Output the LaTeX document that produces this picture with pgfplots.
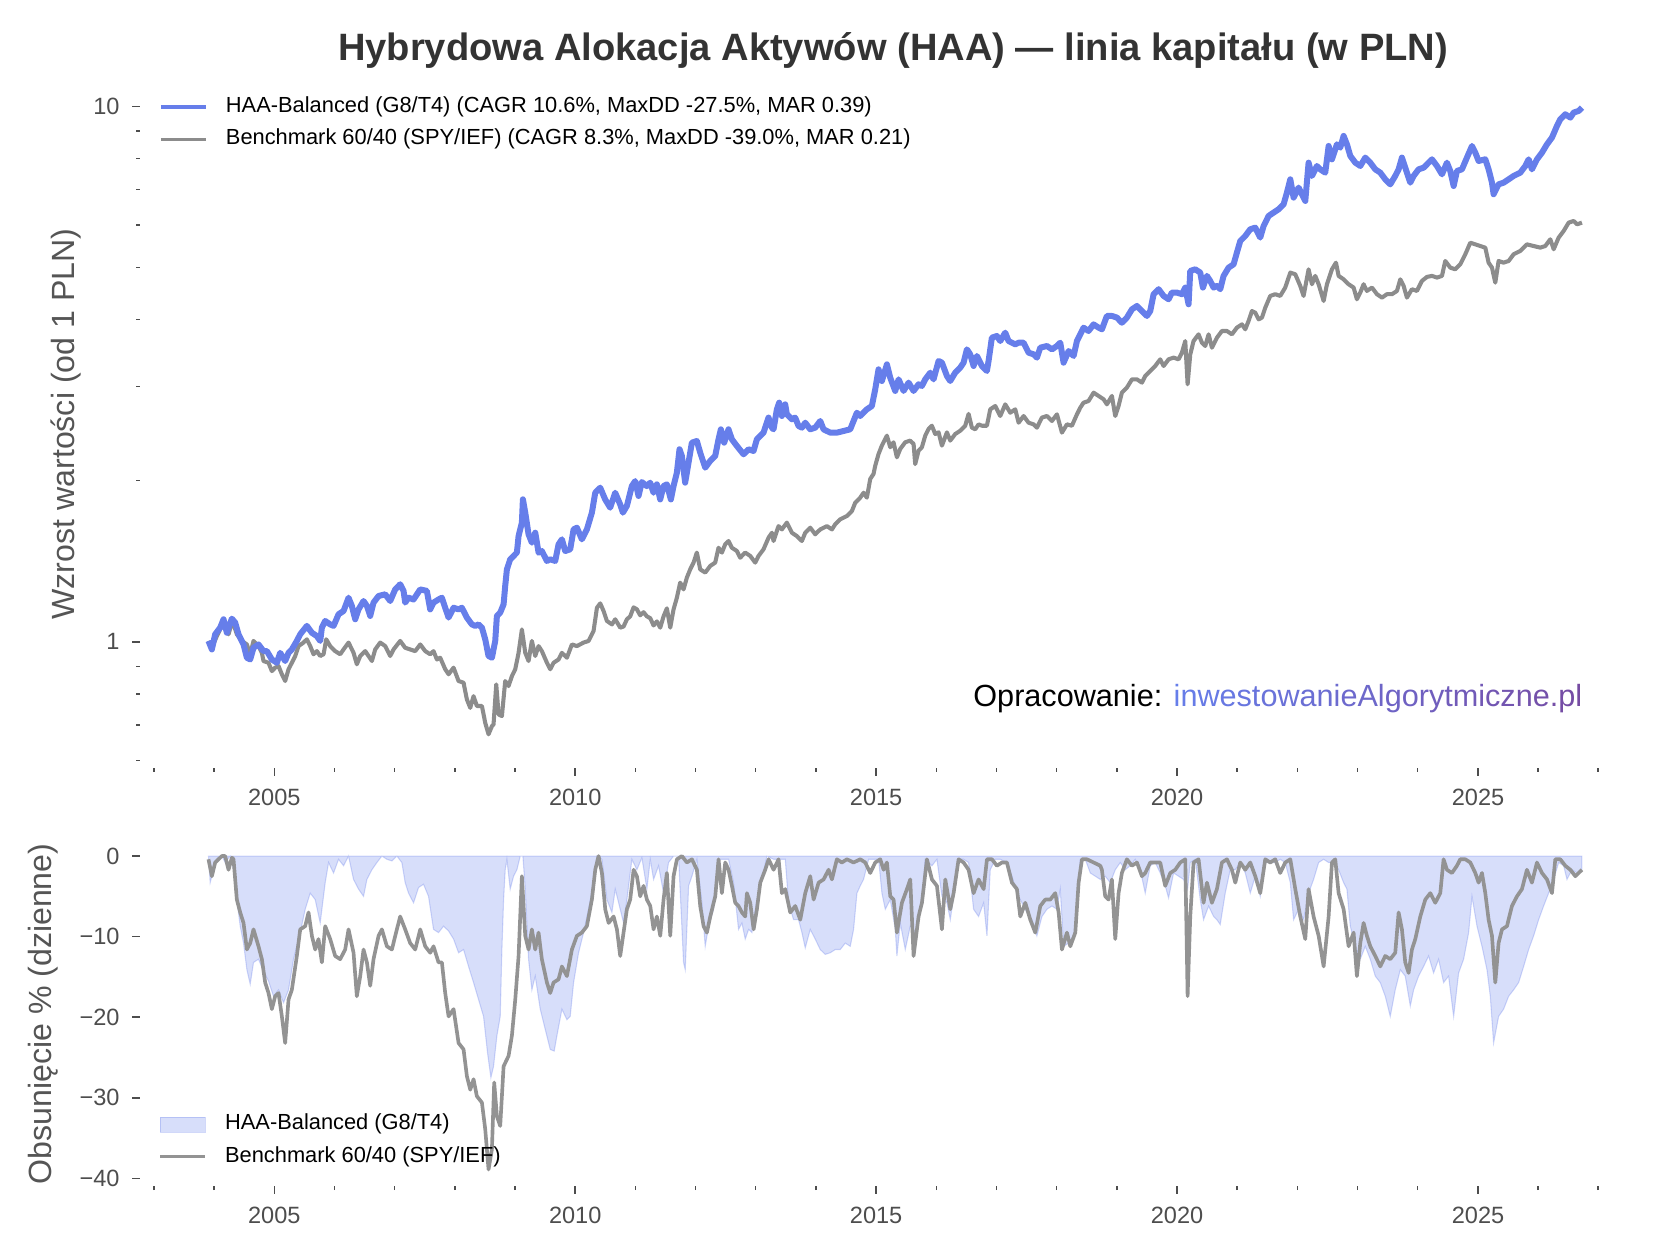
\documentclass[border=0pt]{standalone}
\usepackage{fontspec}
\setmainfont{Liberation Sans}
\usepackage{pgfplots}
\usepackage{pgfplotstable}
\pgfplotsset{compat=1.18}

\definecolor{haa}{HTML}{667EEA}
\definecolor{bench}{HTML}{8C8C8C}
\definecolor{benchdd}{HTML}{939393}
\definecolor{tickc}{HTML}{4D4D4D}
\definecolor{labc}{HTML}{555555}
\definecolor{titlec}{HTML}{333333}
\definecolor{wmA}{HTML}{667EEA}
\definecolor{wmB}{HTML}{764BA2}
\newcommand\gc[2]{\textcolor{wmB!#1!wmA}{#2}}

% equity curve, HAA-Balanced (growth of 1 PLN)
\pgfplotstableread{
x y
2003.907 1.004
2003.963 0.968
2004.018 1.033
2004.101 1.063
2004.157 1.102
2004.212 1.040
2004.295 1.105
2004.351 1.086
2004.406 1.033
2004.489 0.989
2004.545 0.934
2004.600 0.927
2004.655 0.975
2004.738 0.989
2004.821 0.961
2004.877 0.961
2004.960 0.927
2005.043 0.914
2005.098 0.954
2005.181 0.921
2005.237 0.954
2005.292 0.968
2005.375 1.004
2005.431 1.033
2005.541 1.071
2005.625 1.040
2005.708 1.025
2005.763 1.004
2005.791 1.063
2005.846 1.094
2005.929 1.078
2005.985 1.071
2006.068 1.126
2006.151 1.142
2006.234 1.209
2006.289 1.167
2006.345 1.102
2006.400 1.150
2006.483 1.192
2006.539 1.167
2006.594 1.118
2006.649 1.184
2006.733 1.218
2006.843 1.227
2006.926 1.192
2007.009 1.253
2007.092 1.281
2007.148 1.245
2007.175 1.184
2007.231 1.209
2007.314 1.200
2007.425 1.253
2007.535 1.245
2007.591 1.150
2007.646 1.184
2007.729 1.200
2007.785 1.209
2007.840 1.158
2007.896 1.110
2007.979 1.158
2008.062 1.150
2008.117 1.158
2008.200 1.110
2008.283 1.078
2008.339 1.071
2008.394 1.078
2008.450 1.063
2008.505 1.011
2008.560 0.941
2008.616 0.934
2008.671 1.004
2008.699 1.118
2008.754 1.134
2008.810 1.175
2008.837 1.272
2008.865 1.366
2008.920 1.426
2008.976 1.447
2009.031 1.468
2009.059 1.576
2009.114 1.670
2009.131 1.846
2009.170 1.743
2009.225 1.588
2009.280 1.532
2009.336 1.599
2009.391 1.468
2009.446 1.478
2009.530 1.416
2009.585 1.426
2009.668 1.416
2009.723 1.521
2009.779 1.554
2009.834 1.478
2009.917 1.489
2009.973 1.622
2010.028 1.634
2010.111 1.554
2010.194 1.622
2010.277 1.743
2010.333 1.899
2010.415 1.941
2010.498 1.845
2010.581 1.781
2010.664 1.899
2010.747 1.806
2010.792 1.743
2010.858 1.794
2010.941 1.954
2010.997 1.997
2011.052 1.873
2011.107 1.989
2011.190 1.954
2011.246 1.983
2011.301 1.899
2011.357 1.969
2011.412 1.845
2011.467 1.954
2011.523 1.969
2011.589 1.845
2011.634 1.954
2011.689 2.070
2011.733 2.289
2011.772 2.224
2011.827 1.983
2011.883 2.161
2011.938 2.355
2012.021 2.372
2012.077 2.256
2012.160 2.115
2012.243 2.177
2012.326 2.224
2012.381 2.389
2012.420 2.494
2012.475 2.355
2012.547 2.494
2012.603 2.389
2012.686 2.322
2012.797 2.240
2012.880 2.289
2012.963 2.272
2013.018 2.389
2013.129 2.459
2013.212 2.623
2013.268 2.512
2013.295 2.494
2013.351 2.718
2013.389 2.797
2013.434 2.641
2013.489 2.777
2013.517 2.660
2013.600 2.604
2013.655 2.623
2013.711 2.530
2013.766 2.512
2013.822 2.566
2013.905 2.494
2013.988 2.512
2014.071 2.585
2014.126 2.494
2014.237 2.459
2014.348 2.459
2014.458 2.476
2014.569 2.494
2014.625 2.585
2014.680 2.679
2014.735 2.641
2014.846 2.718
2014.929 2.757
2014.985 2.963
2015.040 3.228
2015.095 3.070
2015.179 3.298
2015.234 3.114
2015.317 2.942
2015.373 3.092
2015.456 2.942
2015.539 3.049
2015.622 2.942
2015.705 3.027
2015.760 3.005
2015.816 3.092
2015.899 3.182
2015.954 3.092
2016.037 3.346
2016.093 3.322
2016.176 3.137
2016.231 3.070
2016.314 3.182
2016.397 3.252
2016.453 3.322
2016.508 3.518
2016.563 3.443
2016.619 3.275
2016.674 3.419
2016.757 3.275
2016.840 3.205
2016.868 3.346
2016.923 3.699
2017.006 3.726
2017.062 3.646
2017.145 3.780
2017.200 3.646
2017.311 3.594
2017.367 3.620
2017.450 3.620
2017.533 3.468
2017.616 3.443
2017.671 3.394
2017.727 3.543
2017.837 3.569
2017.921 3.518
2018.004 3.569
2018.059 3.620
2018.114 3.322
2018.198 3.493
2018.281 3.419
2018.336 3.646
2018.391 3.753
2018.446 3.862
2018.529 3.807
2018.613 3.917
2018.696 3.862
2018.751 3.835
2018.834 4.061
2018.917 4.061
2019.000 4.032
2019.083 3.945
2019.166 4.032
2019.250 4.178
2019.333 4.239
2019.416 4.148
2019.499 4.061
2019.554 4.148
2019.610 4.459
2019.693 4.556
2019.776 4.426
2019.859 4.363
2019.914 4.490
2019.997 4.490
2020.080 4.459
2020.136 4.588
2020.191 4.270
2020.219 4.928
2020.302 4.963
2020.385 4.893
2020.429 4.588
2020.496 4.824
2020.551 4.719
2020.607 4.588
2020.662 4.620
2020.717 4.556
2020.773 4.824
2020.856 4.999
2020.939 5.071
2020.994 5.333
2021.050 5.606
2021.133 5.728
2021.216 5.895
2021.299 5.937
2021.382 5.688
2021.438 5.980
2021.521 6.243
2021.604 6.334
2021.687 6.425
2021.770 6.564
2021.825 6.902
2021.881 7.308
2021.936 6.756
2022.019 7.053
2022.075 6.853
2022.130 6.659
2022.185 7.852
2022.241 7.416
2022.324 7.739
2022.379 7.629
2022.462 7.521
2022.518 8.435
2022.573 7.965
2022.656 8.495
2022.711 8.375
2022.767 8.806
2022.822 8.495
2022.878 8.080
2022.961 7.852
2023.044 7.739
2023.127 8.023
2023.210 7.852
2023.293 7.629
2023.376 7.521
2023.459 7.308
2023.542 7.152
2023.625 7.416
2023.681 7.629
2023.736 8.023
2023.791 7.684
2023.875 7.203
2023.930 7.416
2024.013 7.629
2024.096 7.684
2024.179 7.852
2024.235 7.965
2024.318 7.739
2024.401 7.467
2024.484 7.852
2024.539 7.575
2024.595 7.101
2024.650 7.575
2024.733 7.629
2024.816 8.023
2024.900 8.435
2024.955 8.196
2025.010 7.908
2025.121 7.965
2025.176 7.629
2025.232 7.203
2025.259 6.853
2025.342 7.152
2025.425 7.203
2025.509 7.308
2025.592 7.416
2025.702 7.521
2025.786 7.739
2025.841 7.965
2025.896 7.629
2025.979 7.965
2026.063 8.196
2026.146 8.495
2026.229 8.746
2026.312 9.195
2026.367 9.460
2026.450 9.667
2026.534 9.528
2026.589 9.736
2026.672 9.806
2026.727 9.948
}\haaeq

% equity curve, benchmark 60/40
\pgfplotstableread{
x y
2003.907 1.004
2003.963 0.975
2004.046 1.025
2004.129 1.071
2004.184 1.086
2004.240 1.033
2004.295 1.086
2004.323 1.078
2004.378 1.033
2004.461 1.004
2004.545 0.989
2004.600 0.948
2004.655 1.004
2004.738 0.982
2004.794 0.954
2004.821 0.921
2004.904 0.914
2004.960 0.882
2005.015 0.895
2005.071 0.901
2005.126 0.870
2005.181 0.845
2005.237 0.889
2005.292 0.914
2005.348 0.941
2005.403 0.982
2005.486 0.997
2005.541 1.011
2005.597 0.982
2005.652 0.948
2005.708 0.961
2005.763 0.941
2005.819 0.948
2005.863 1.011
2005.929 0.982
2006.012 0.961
2006.095 0.948
2006.151 0.968
2006.234 0.997
2006.317 0.954
2006.372 0.908
2006.428 0.941
2006.511 0.961
2006.566 0.941
2006.622 0.921
2006.677 0.968
2006.760 0.997
2006.843 0.982
2006.926 0.941
2006.982 0.968
2007.092 1.004
2007.175 0.975
2007.258 0.968
2007.342 0.961
2007.425 0.989
2007.508 0.961
2007.591 0.948
2007.646 0.961
2007.702 0.927
2007.757 0.934
2007.840 0.889
2007.896 0.870
2007.979 0.895
2008.062 0.845
2008.145 0.839
2008.200 0.781
2008.256 0.753
2008.311 0.792
2008.366 0.759
2008.450 0.759
2008.505 0.706
2008.560 0.672
2008.616 0.696
2008.643 0.701
2008.688 0.833
2008.727 0.732
2008.782 0.727
2008.837 0.845
2008.893 0.827
2008.948 0.863
2009.004 0.889
2009.059 0.954
2009.114 1.055
2009.170 0.954
2009.225 0.921
2009.280 1.004
2009.336 0.941
2009.391 0.982
2009.446 0.961
2009.530 0.914
2009.585 0.889
2009.640 0.914
2009.723 0.927
2009.779 0.954
2009.862 0.934
2009.945 0.989
2010.028 0.982
2010.139 0.997
2010.222 1.004
2010.305 1.048
2010.361 1.158
2010.416 1.180
2010.471 1.142
2010.527 1.094
2010.610 1.078
2010.665 1.102
2010.748 1.063
2010.803 1.068
2010.859 1.102
2010.914 1.116
2010.970 1.160
2011.025 1.150
2011.080 1.121
2011.136 1.136
2011.191 1.116
2011.247 1.107
2011.302 1.073
2011.357 1.092
2011.413 1.063
2011.468 1.116
2011.523 1.155
2011.579 1.063
2011.634 1.150
2011.689 1.209
2011.744 1.290
2011.800 1.253
2011.855 1.318
2011.911 1.366
2011.966 1.406
2012.021 1.468
2012.077 1.366
2012.160 1.347
2012.243 1.386
2012.326 1.406
2012.381 1.499
2012.437 1.468
2012.492 1.521
2012.547 1.543
2012.603 1.499
2012.686 1.478
2012.741 1.436
2012.824 1.468
2012.908 1.447
2012.991 1.406
2013.046 1.447
2013.129 1.489
2013.212 1.565
2013.268 1.599
2013.295 1.543
2013.378 1.645
2013.434 1.622
2013.517 1.670
2013.600 1.599
2013.683 1.576
2013.766 1.543
2013.822 1.599
2013.905 1.634
2013.988 1.588
2014.071 1.622
2014.182 1.645
2014.265 1.622
2014.320 1.658
2014.403 1.694
2014.514 1.718
2014.597 1.755
2014.652 1.819
2014.735 1.859
2014.791 1.899
2014.846 1.859
2014.902 2.015
2014.957 2.059
2014.985 2.133
2015.040 2.243
2015.095 2.325
2015.179 2.427
2015.234 2.309
2015.289 2.359
2015.345 2.211
2015.400 2.292
2015.483 2.359
2015.566 2.376
2015.622 2.342
2015.649 2.148
2015.705 2.276
2015.760 2.309
2015.816 2.427
2015.871 2.497
2015.926 2.533
2015.982 2.444
2016.037 2.462
2016.093 2.325
2016.176 2.462
2016.231 2.376
2016.314 2.444
2016.397 2.479
2016.480 2.533
2016.536 2.665
2016.591 2.512
2016.646 2.494
2016.702 2.548
2016.757 2.533
2016.840 2.533
2016.896 2.718
2016.979 2.757
2017.062 2.641
2017.145 2.777
2017.228 2.679
2017.311 2.718
2017.367 2.566
2017.450 2.641
2017.533 2.566
2017.616 2.548
2017.671 2.512
2017.754 2.623
2017.837 2.641
2017.921 2.585
2018.004 2.660
2018.087 2.459
2018.170 2.548
2018.253 2.533
2018.336 2.660
2018.391 2.737
2018.446 2.797
2018.529 2.817
2018.613 2.920
2018.696 2.879
2018.779 2.838
2018.834 2.777
2018.917 2.879
2018.973 2.641
2019.028 2.757
2019.083 2.920
2019.166 2.984
2019.250 3.092
2019.333 3.092
2019.416 3.049
2019.471 3.137
2019.554 3.206
2019.637 3.275
2019.720 3.370
2019.776 3.275
2019.859 3.370
2019.942 3.395
2020.025 3.370
2020.080 3.468
2020.136 3.646
2020.175 3.027
2020.219 3.443
2020.274 3.646
2020.357 3.753
2020.413 3.620
2020.468 3.569
2020.524 3.753
2020.579 3.543
2020.662 3.699
2020.745 3.807
2020.828 3.807
2020.911 3.753
2020.994 3.862
2021.077 3.917
2021.133 3.835
2021.188 3.974
2021.244 4.148
2021.299 4.119
2021.354 4.002
2021.410 4.032
2021.465 4.208
2021.548 4.426
2021.631 4.459
2021.714 4.426
2021.797 4.588
2021.881 4.893
2021.964 4.858
2022.047 4.620
2022.102 4.426
2022.185 4.963
2022.241 4.654
2022.296 4.824
2022.352 4.654
2022.435 4.331
2022.490 4.654
2022.573 4.963
2022.640 5.107
2022.684 4.824
2022.767 4.754
2022.850 4.654
2022.933 4.588
2022.988 4.363
2023.044 4.490
2023.099 4.654
2023.154 4.522
2023.238 4.588
2023.321 4.459
2023.404 4.394
2023.487 4.459
2023.570 4.459
2023.653 4.522
2023.709 4.754
2023.764 4.620
2023.819 4.394
2023.902 4.556
2023.985 4.522
2024.068 4.721
2024.152 4.803
2024.235 4.824
2024.318 4.789
2024.401 4.824
2024.456 5.144
2024.539 4.999
2024.622 4.963
2024.705 5.071
2024.789 5.295
2024.872 5.565
2024.955 5.525
2025.038 5.486
2025.121 5.447
2025.176 5.107
2025.232 4.999
2025.287 4.686
2025.342 5.144
2025.425 5.107
2025.509 5.144
2025.592 5.295
2025.702 5.370
2025.813 5.525
2025.924 5.486
2026.035 5.447
2026.118 5.486
2026.201 5.647
2026.257 5.409
2026.340 5.688
2026.423 5.853
2026.506 6.066
2026.589 6.109
2026.645 6.022
2026.727 6.066
}\benchq

% daily drawdown in %, HAA-Balanced
\pgfplotstableread{
x y
2003.907 0
2003.935 -3.3
2003.990 -1.7
2004.046 -0.4
2004.129 0
2004.184 -0.8
2004.267 0
2004.323 -1.7
2004.378 -5.4
2004.434 -8.7
2004.489 -10.8
2004.545 -14.1
2004.600 -15.9
2004.655 -13.2
2004.738 -12.8
2004.821 -14.3
2004.904 -15.5
2004.987 -17.4
2005.071 -16.6
2005.154 -18.2
2005.237 -16.6
2005.320 -12.8
2005.431 -9.5
2005.514 -6.6
2005.597 -4.6
2005.680 -5.4
2005.763 -8.3
2005.846 -3.3
2005.902 -0.8
2005.985 -2.1
2006.068 -0.4
2006.151 -1.2
2006.234 0
2006.317 -2.9
2006.400 -4.1
2006.483 -5.0
2006.539 -2.9
2006.622 -1.7
2006.705 -0.8
2006.788 0
2006.871 -0.4
2006.954 -0.6
2007.037 0
2007.120 -0.8
2007.175 -3.3
2007.231 -4.6
2007.314 -5.8
2007.397 -3.9
2007.480 -3.5
2007.563 -5.0
2007.646 -9.1
2007.729 -9.5
2007.812 -8.7
2007.896 -9.3
2007.979 -10.3
2008.062 -12.0
2008.145 -11.6
2008.228 -13.7
2008.311 -15.7
2008.394 -17.8
2008.477 -19.9
2008.543 -24.4
2008.599 -27.5
2008.643 -26.1
2008.699 -22.3
2008.754 -19.9
2008.782 -11.6
2008.810 -5.4
2008.837 -1.7
2008.865 -0.4
2008.920 -4.1
2008.976 -2.5
2009.031 -1.7
2009.087 0
2009.131 0
2009.170 -4.1
2009.225 -12.8
2009.280 -16.6
2009.336 -14.9
2009.419 -19.0
2009.502 -21.5
2009.585 -24.0
2009.651 -24.2
2009.696 -22.3
2009.779 -19.0
2009.862 -20.3
2009.917 -19.9
2009.973 -15.7
2010.056 -12.0
2010.139 -9.5
2010.222 -6.6
2010.305 -3.3
2010.361 0
2010.444 -0.4
2010.527 -5.4
2010.610 -7.0
2010.665 -4.1
2010.748 -6.6
2010.803 -8.3
2010.859 -5.4
2010.942 -0.4
2011.025 -1.7
2011.108 -0.2
2011.191 -4.1
2011.247 -0.4
2011.302 -2.9
2011.385 -1.2
2011.468 -4.6
2011.551 -0.8
2011.634 0
2011.717 0
2011.800 -13.2
2011.828 -14.1
2011.884 -3.7
2011.939 -2.5
2012.022 -0.4
2012.105 -5.8
2012.160 -11.2
2012.216 -8.7
2012.299 -6.6
2012.382 -0.4
2012.465 -0.4
2012.548 -0.4
2012.631 -3.3
2012.714 -9.1
2012.770 -8.3
2012.825 -10.3
2012.881 -9.1
2012.936 -9.5
2013.019 -5.4
2013.102 -2.9
2013.185 0
2013.296 -0.4
2013.407 -0.4
2013.490 -0.4
2013.545 -5.8
2013.628 -7.9
2013.711 -7.9
2013.767 -9.5
2013.822 -11.4
2013.905 -9.1
2013.988 -10.3
2014.071 -11.6
2014.155 -12.2
2014.238 -12.0
2014.321 -11.6
2014.404 -11.6
2014.487 -10.8
2014.570 -11.2
2014.625 -9.1
2014.681 -4.6
2014.736 -3.7
2014.791 -2.9
2014.875 -0.4
2014.958 -0.4
2015.041 -0.4
2015.096 -4.6
2015.152 -6.6
2015.235 -5.4
2015.318 -9.1
2015.345 -12.4
2015.401 -8.3
2015.484 -11.6
2015.567 -8.7
2015.650 -9.5
2015.705 -7.5
2015.761 -5.8
2015.816 -0.4
2015.927 -1.2
2016.010 -0.4
2016.093 -5.0
2016.176 -5.8
2016.232 -7.9
2016.287 -5.0
2016.370 -0.4
2016.453 -0.4
2016.536 -0.8
2016.619 -6.6
2016.702 -7.5
2016.786 -5.8
2016.841 -9.9
2016.896 -1.7
2016.979 -0.4
2017.062 -0.4
2017.173 -0.8
2017.256 -2.5
2017.339 -4.6
2017.422 -5.8
2017.505 -7.0
2017.588 -7.9
2017.671 -9.9
2017.755 -7.5
2017.838 -6.6
2017.921 -6.2
2018.004 -6.6
2018.059 -4.1
2018.115 -11.2
2018.198 -10.8
2018.281 -9.9
2018.337 -7.5
2018.392 -0.4
2018.475 -0.4
2018.558 -2.1
2018.641 -2.5
2018.724 -2.9
2018.806 -2.5
2018.890 -3.3
2018.973 -1.7
2019.056 -0.8
2019.139 -1.7
2019.222 -1.2
2019.305 -0.4
2019.388 -1.7
2019.471 -4.6
2019.554 -1.2
2019.637 -0.8
2019.720 -2.1
2019.803 -3.7
2019.859 -5.2
2019.942 -2.1
2020.025 -2.5
2020.108 -2.9
2020.175 -4.1
2020.219 -0.8
2020.302 -0.4
2020.385 -5.4
2020.440 -7.9
2020.524 -6.2
2020.607 -7.5
2020.662 -7.9
2020.717 -8.5
2020.800 -4.6
2020.883 -1.7
2020.967 -1.7
2021.050 -0.8
2021.133 -2.1
2021.216 -4.6
2021.299 -2.5
2021.382 -5.0
2021.465 -0.8
2021.548 -0.8
2021.631 -0.8
2021.714 -0.4
2021.797 -0.8
2021.881 -3.3
2021.936 -7.9
2022.019 -6.6
2022.102 -7.9
2022.185 -4.6
2022.268 -2.9
2022.352 -0.8
2022.435 -0.4
2022.518 -0.8
2022.601 -0.8
2022.684 -1.7
2022.767 -3.3
2022.822 -4.1
2022.878 -8.7
2022.961 -11.2
2023.044 -12.8
2023.127 -11.2
2023.210 -12.8
2023.293 -14.9
2023.376 -15.7
2023.459 -17.4
2023.542 -19.9
2023.625 -16.6
2023.709 -14.1
2023.791 -14.9
2023.875 -18.6
2023.930 -16.6
2024.013 -14.9
2024.096 -13.7
2024.179 -12.4
2024.262 -14.5
2024.345 -12.8
2024.428 -15.7
2024.511 -14.9
2024.595 -19.9
2024.678 -14.5
2024.761 -12.8
2024.844 -9.5
2024.900 -5.0
2024.983 -8.7
2025.066 -11.2
2025.149 -14.1
2025.204 -17.4
2025.259 -23.2
2025.342 -19.9
2025.425 -19.0
2025.509 -17.4
2025.592 -16.6
2025.675 -15.7
2025.758 -13.7
2025.841 -11.6
2025.924 -9.9
2026.007 -7.9
2026.090 -6.2
2026.173 -4.6
2026.257 -2.9
2026.340 -0.8
2026.423 -1.2
2026.478 -2.9
2026.561 -1.7
2026.645 -2.1
2026.727 -1.7
}\haadd

% daily drawdown in %, benchmark 60/40
\pgfplotstableread{
x y
2003.907 -0.4
2003.963 -2.5
2004.018 -0.8
2004.073 -0.4
2004.129 0
2004.184 0
2004.240 -1.7
2004.295 -0.2
2004.323 -0.4
2004.378 -5.4
2004.434 -7.0
2004.489 -8.3
2004.545 -11.6
2004.600 -10.8
2004.655 -9.1
2004.738 -11.2
2004.794 -12.8
2004.849 -15.7
2004.904 -17.0
2004.960 -19.0
2005.015 -17.4
2005.071 -17.0
2005.126 -19.9
2005.181 -23.2
2005.237 -17.8
2005.292 -16.6
2005.375 -12.4
2005.431 -9.1
2005.514 -8.7
2005.569 -7.0
2005.625 -9.9
2005.680 -11.6
2005.735 -10.3
2005.791 -13.2
2005.846 -8.7
2005.929 -10.3
2006.012 -12.4
2006.095 -12.8
2006.178 -11.6
2006.234 -9.1
2006.317 -12.0
2006.372 -17.4
2006.428 -14.9
2006.483 -11.6
2006.539 -13.2
2006.594 -16.1
2006.649 -12.8
2006.733 -9.9
2006.788 -9.1
2006.871 -11.2
2006.954 -11.6
2007.037 -9.1
2007.092 -7.5
2007.175 -9.1
2007.258 -10.8
2007.342 -11.6
2007.425 -9.1
2007.508 -11.2
2007.591 -12.0
2007.646 -11.2
2007.729 -13.2
2007.785 -13.2
2007.840 -17.0
2007.896 -19.9
2007.979 -19.0
2008.062 -23.2
2008.145 -24.0
2008.200 -27.3
2008.256 -29.0
2008.311 -27.7
2008.366 -29.8
2008.450 -30.6
2008.505 -33.9
2008.560 -38.9
2008.616 -36.4
2008.654 -28.1
2008.699 -32.3
2008.754 -33.5
2008.810 -26.1
2008.893 -24.8
2008.948 -22.3
2009.004 -17.8
2009.059 -12.4
2009.114 -2.5
2009.170 -9.9
2009.225 -11.6
2009.280 -9.1
2009.336 -11.6
2009.391 -9.5
2009.446 -12.8
2009.530 -15.7
2009.585 -17.0
2009.640 -15.7
2009.723 -15.3
2009.779 -13.7
2009.862 -14.9
2009.945 -11.6
2010.028 -9.9
2010.111 -9.5
2010.194 -8.7
2010.277 -5.4
2010.333 -1.7
2010.388 0
2010.444 -2.1
2010.499 -6.6
2010.555 -8.3
2010.638 -7.5
2010.693 -9.1
2010.748 -12.4
2010.803 -9.5
2010.859 -6.6
2010.914 -5.4
2010.970 -1.7
2011.025 -2.5
2011.080 -5.0
2011.136 -3.7
2011.191 -5.4
2011.247 -6.2
2011.302 -9.1
2011.357 -7.5
2011.413 -9.9
2011.468 -5.4
2011.523 -2.1
2011.579 -9.9
2011.634 -2.5
2011.690 -0.4
2011.773 0
2011.856 -0.8
2011.939 -0.4
2012.022 -1.7
2012.077 -6.2
2012.133 -8.7
2012.188 -9.5
2012.244 -7.5
2012.327 -5.0
2012.382 -0.4
2012.437 -4.6
2012.493 -0.8
2012.548 -1.7
2012.604 -3.7
2012.659 -5.8
2012.714 -6.2
2012.770 -7.0
2012.825 -7.5
2012.853 -4.6
2012.908 -5.8
2012.964 -9.1
2013.019 -6.6
2013.075 -3.3
2013.157 -1.7
2013.213 -0.4
2013.296 -1.7
2013.379 -0.4
2013.434 -4.6
2013.490 -4.1
2013.573 -7.0
2013.656 -6.2
2013.739 -7.9
2013.822 -4.6
2013.905 -2.5
2013.961 -5.4
2014.044 -3.3
2014.127 -2.9
2014.210 -1.7
2014.265 -2.9
2014.348 -0.4
2014.431 -0.8
2014.515 -0.4
2014.625 -0.8
2014.736 -0.4
2014.819 -0.8
2014.902 -2.1
2014.985 -0.8
2015.068 -0.4
2015.124 -1.7
2015.179 -0.8
2015.235 -5.0
2015.290 -5.4
2015.345 -9.5
2015.428 -5.8
2015.512 -4.1
2015.567 -2.9
2015.622 -12.4
2015.705 -7.5
2015.761 -5.8
2015.844 -0.4
2015.927 -2.9
2016.010 -3.7
2016.093 -9.1
2016.149 -2.9
2016.232 -6.6
2016.287 -4.6
2016.370 -0.4
2016.453 -0.8
2016.536 -1.7
2016.619 -4.6
2016.702 -2.9
2016.786 -4.1
2016.841 -0.4
2016.924 -0.4
2017.007 -1.2
2017.090 -0.8
2017.173 -0.8
2017.256 -3.3
2017.339 -4.1
2017.395 -7.5
2017.478 -5.8
2017.561 -7.9
2017.644 -9.5
2017.727 -6.2
2017.810 -5.4
2017.893 -5.4
2017.976 -4.6
2018.032 -7.0
2018.087 -11.6
2018.170 -9.5
2018.226 -11.2
2018.309 -9.5
2018.364 -3.3
2018.420 -0.4
2018.503 -0.4
2018.614 -0.8
2018.724 -1.2
2018.751 -1.7
2018.806 -5.0
2018.862 -5.4
2018.917 -2.9
2018.973 -10.3
2019.028 -4.6
2019.083 -2.1
2019.166 -0.4
2019.250 -1.2
2019.333 -0.8
2019.416 -2.5
2019.471 -2.1
2019.554 -0.8
2019.637 -0.8
2019.720 -0.8
2019.803 -3.7
2019.887 -2.1
2019.970 -1.7
2020.053 -0.8
2020.136 -0.4
2020.175 -17.4
2020.219 -7.5
2020.274 -0.8
2020.357 -0.4
2020.440 -5.8
2020.496 -3.3
2020.579 -5.8
2020.662 -4.1
2020.745 -0.8
2020.828 -0.4
2020.911 -1.7
2020.967 -3.3
2021.050 -0.8
2021.133 -1.7
2021.216 -0.8
2021.299 -2.5
2021.382 -4.6
2021.465 -0.4
2021.548 -0.8
2021.631 -0.4
2021.714 -2.1
2021.797 -0.8
2021.881 -0.4
2021.964 -4.1
2022.047 -7.5
2022.130 -10.3
2022.185 -4.1
2022.268 -7.5
2022.352 -9.9
2022.435 -13.7
2022.518 -7.5
2022.573 -0.8
2022.628 -0.4
2022.684 -4.6
2022.767 -6.6
2022.850 -11.2
2022.933 -9.5
2022.988 -14.9
2023.044 -10.8
2023.099 -8.3
2023.154 -9.9
2023.210 -11.2
2023.293 -12.4
2023.376 -13.7
2023.459 -12.4
2023.542 -12.8
2023.625 -12.0
2023.681 -7.0
2023.736 -9.1
2023.791 -13.2
2023.847 -14.5
2023.902 -11.6
2023.958 -10.3
2024.041 -7.5
2024.124 -5.4
2024.207 -4.6
2024.290 -5.8
2024.373 -4.6
2024.428 -0.4
2024.484 -1.7
2024.567 -2.1
2024.650 -1.2
2024.705 -0.4
2024.789 -0.4
2024.872 -0.8
2024.955 -2.1
2025.010 -3.3
2025.066 -2.1
2025.121 -4.6
2025.176 -7.9
2025.232 -9.9
2025.287 -15.7
2025.342 -10.8
2025.398 -9.1
2025.481 -8.7
2025.564 -6.2
2025.647 -5.0
2025.730 -4.1
2025.813 -1.7
2025.896 -3.3
2025.979 -0.8
2026.063 -2.1
2026.146 -2.9
2026.229 -4.6
2026.284 -0.4
2026.367 -0.4
2026.450 -1.2
2026.534 -1.7
2026.617 -2.5
2026.727 -1.7
}\benchdd

\pgfplotsset{
  panel/.style={
    scale only axis, width=705.4pt, anchor=south west,
    xmin=2002.77, xmax=2027.87,
    axis line style={draw=none},
    tick align=outside, xtick pos=left, ytick pos=left,
    xtick={2005,2010,2015,2020,2025},
    xticklabels={2005,2010,2015,2020,2025},
    minor xtick={2003,2004,...,2027},
    major tick length=3.7pt, minor tick length=1.9pt,
    tick style={draw=tickc, line width=0.7pt},
    tick label style={font=\fontsize{11}{13}\selectfont, text=tickc},
    xticklabel style={anchor=base, inner sep=0pt, yshift=-14pt},
    yticklabel style={anchor=east, inner sep=0pt, xshift=-5.7pt},
    legend cell align=left,
    legend style={anchor=north west, draw=none, fill=none, inner sep=0pt,
      font=\fontsize{10.2}{12}\selectfont,
      nodes={inner sep=0pt, text height=7.5pt, text depth=2.5pt},
      row sep=5pt,
      /tikz/every odd column/.append style={column sep=8.5pt}},
  },
}

\begin{document}
\begin{tikzpicture}
\useasboundingbox (0,0) rectangle (784pt,588pt);

\node[anchor=base, font=\bfseries\fontsize{17.8}{20}\selectfont, text=titlec]
  at (417pt,559.75pt) {Hybrydowa Alokacja Aktywów (HAA) — linia kapitału (w PLN)};

\begin{axis}[panel, at={(65.4pt,229.5pt)}, height=324pt,
    ymode=log, ymin=0.582, ymax=11.5,
    ytick={1,10}, yticklabels={1,10},
    minor ytick={0.6,0.7,0.8,0.9,2,3,4,5,6,7,8,9},
    reverse legend,
    legend style={at={(0.0122,0.968)}}]
\addplot[bench, line width=1.9pt, line join=round,
  legend image code/.code={\draw[bench, line width=1.4pt] (0pt,0pt) -- (21pt,0pt);}]
  table[x=x, y=y] {\benchq};
\addlegendentry{Benchmark 60/40 (SPY/IEF) (CAGR 8.3\%, MaxDD -39.0\%, MAR 0.21)}
\addplot[haa, line width=2.8pt, line join=round,
  legend image code/.code={\draw[haa, line width=1.8pt] (0pt,0pt) -- (21pt,0pt);}]
  table[x=x, y=y] {\haaeq};
\addlegendentry{HAA-Balanced (G8/T4) (CAGR 10.6\%, MaxDD -27.5\%, MAR 0.39)}
\end{axis}

\begin{axis}[panel, at={(65.4pt,34.2pt)}, height=161.4pt,
    ymin=-40.95, ymax=1.95,
    ytick={-40,-30,-20,-10,0}, yticklabels={−40,−30,−20,−10,0},
    legend style={at={(0.0122,0.21)}}]
\addplot[draw=haa, draw opacity=0.3, line width=0.5pt, fill=haa, fill opacity=0.26,
  legend image code/.code={\fill[haa, fill opacity=0.26] (0pt,-3.5pt) rectangle (21pt,3.5pt);}]
  table[x=x, y=y] {\haadd} \closedcycle;
\addlegendentry{HAA-Balanced (G8/T4)}
\addplot[benchdd, line width=1.7pt, line join=round,
  legend image code/.code={\draw[benchdd, line width=1.4pt] (0pt,0pt) -- (21pt,0pt);}]
  table[x=x, y=y] {\benchdd};
\addlegendentry{Benchmark 60/40 (SPY/IEF)}
\end{axis}

\node[rotate=90, font=\fontsize{15}{17}\selectfont, text=labc] at (31pt,390pt)
  {Wzrost wartości (od 1 PLN)};
\node[rotate=90, font=\fontsize{15}{17}\selectfont, text=labc] at (20pt,114.5pt)
  {Obsunięcie \% (dzienne)};

\node[anchor=base east, inner sep=0pt, font=\fontsize{14.3}{16}\selectfont]
  at (739pt,258.25pt) {Opracowanie: \gc{0}{i}\gc{4}{n}\gc{7}{w}\gc{11}{e}\gc{15}{s}\gc{19}{t}\gc{22}{o}\gc{26}{w}\gc{30}{a}\gc{33}{n}\gc{37}{i}\gc{41}{e}\gc{44}{A}\gc{48}{l}\gc{52}{g}\gc{56}{o}\gc{59}{r}\gc{63}{y}\gc{67}{t}\gc{70}{m}\gc{74}{i}\gc{78}{c}\gc{81}{z}\gc{85}{n}\gc{89}{e}\gc{93}{.}\gc{96}{p}\gc{100}{l}};
\end{tikzpicture}
\end{document}
